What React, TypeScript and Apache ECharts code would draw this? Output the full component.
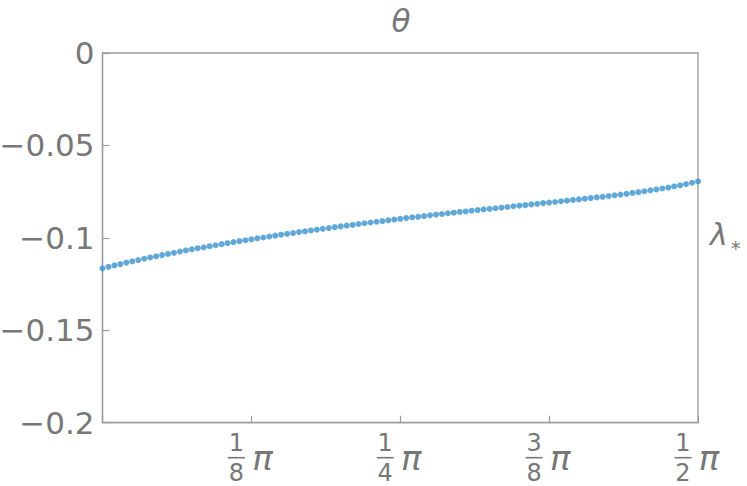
import { useEffect, useRef } from "react";
import * as echarts from "echarts";

const lambdaStar = [
  -0.1165, -0.1157, -0.1149, -0.1142, -0.1134, -0.1127, -0.1120, -0.1113, -0.1106, -0.1100,
  -0.1093, -0.1087, -0.1081, -0.1074, -0.1068, -0.1062, -0.1056, -0.1051, -0.1045, -0.1040,
  -0.1034, -0.1029, -0.1023, -0.1018, -0.1013, -0.1008, -0.1003, -0.0998, -0.0993, -0.0988,
  -0.0983, -0.0978, -0.0974, -0.0969, -0.0965, -0.0960, -0.0956, -0.0951, -0.0947, -0.0942,
  -0.0938, -0.0934, -0.0930, -0.0925, -0.0921, -0.0917, -0.0913, -0.0909, -0.0905, -0.0901,
  -0.0897, -0.0893, -0.0889, -0.0886, -0.0882, -0.0878, -0.0874, -0.0871, -0.0867, -0.0864,
  -0.0860, -0.0857, -0.0853, -0.0850, -0.0846, -0.0843, -0.0840, -0.0836, -0.0833, -0.0829,
  -0.0826, -0.0823, -0.0819, -0.0816, -0.0812, -0.0809, -0.0806, -0.0802, -0.0799, -0.0795,
  -0.0792, -0.0788, -0.0785, -0.0781, -0.0778, -0.0774, -0.0770, -0.0766, -0.0762, -0.0757,
  -0.0753, -0.0748, -0.0743, -0.0738, -0.0733, -0.0728, -0.0722, -0.0716, -0.0709, -0.0702,
  -0.0695,
];

// x ticks, in steps of π/200
const xTicks = [0, 25, 50, 75, 100];
const xTickNum = ["", "1", "1", "3", "1"];
const xTickDen = ["", "8", "4", "8", "2"];

const yTicks = [0, -0.05, -0.1, -0.15, -0.2];
const yTickLabels = ["0", "−0.05", "−0.1", "−0.15", "−0.2"];

const TEXT = "#777777";
const FRAME = "#9a9a9a";
const DOT = "#3792cd";
const FONT = "DejaVu Sans";

export default function App() {
  const ref = useRef<HTMLDivElement>(null);

  useEffect(() => {
    if (!ref.current) return;
    const chart = echarts.init(ref.current, undefined, { renderer: "svg" });
    chart.setOption({
      animation: false,
      backgroundColor: "#ffffff",
      grid: {
        left: 102.5,
        right: 49,
        top: 53,
        bottom: 63.3,
        show: true,
        borderColor: FRAME,
        borderWidth: 1.3,
        containLabel: false,
        outerBoundsMode: "none",
      },
      xAxis: {
        type: "value",
        position: "bottom",
        min: 0,
        max: 100,
        interval: 25,
        axisLine: { show: true, onZero: false, lineStyle: { color: FRAME, width: 1.3 } },
        axisTick: { show: true, inside: true, length: 7, lineStyle: { color: FRAME, width: 1.2 } },
        splitLine: { show: false },
        axisLabel: {
          margin: 9,
          color: TEXT,
          fontFamily: FONT,
          formatter: (v: number) => {
            const k = xTicks.indexOf(Math.round(v));
            if (k <= 0) return "";
            return (
              `{n|${xTickNum[k]}}{sp| }\n` +
              `{bar| }{gap| }{p|π}\n` +
              `{n|${xTickDen[k]}}{sp| }`
            );
          },
          rich: {
            n: { fontSize: 24, lineHeight: 22, width: 17, align: "center", color: TEXT, fontFamily: FONT },
            sp: { fontSize: 4, lineHeight: 4, width: 30 },
            bar: { fontSize: 4, height: 1.6, lineHeight: 8, width: 17, backgroundColor: TEXT },
            gap: { fontSize: 4, lineHeight: 8, width: 5 },
            p: {
              fontSize: 34,
              lineHeight: 8,
              width: 25,
              align: "left",
              fontStyle: "italic",
              color: TEXT,
              fontFamily: FONT,
            },
          },
        },
      },
      yAxis: {
        type: "value",
        position: "left",
        min: -0.2,
        max: 0,
        interval: 0.05,
        axisLine: { show: true, onZero: false, lineStyle: { color: FRAME, width: 1.3 } },
        axisTick: { show: true, inside: true, length: 7, lineStyle: { color: FRAME, width: 1.2 } },
        splitLine: { show: false },
        axisLabel: {
          margin: 8,
          color: TEXT,
          fontFamily: FONT,
          fontSize: 31,
          formatter: (v: number) => {
            const k = yTicks.findIndex((t) => Math.abs(t - v) < 1e-9);
            return k >= 0 ? yTickLabels[k] : "";
          },
        },
      },
      series: [
        {
          type: "scatter",
          symbol: "circle",
          symbolSize: 6,
          itemStyle: { color: DOT },
          data: lambdaStar.map((v, i) => [i, v]),
          clip: false,
        },
      ],
      graphic: [
        {
          type: "text",
          x: 401,
          y: 21,
          style: {
            text: "θ",
            fill: TEXT,
            font: `italic 31px "${FONT}"`,
            textAlign: "center",
            textVerticalAlign: "middle",
          },
        },
        {
          type: "text",
          x: 710,
          y: 234,
          style: {
            text: "λ",
            fill: TEXT,
            font: `italic 30px "${FONT}"`,
            textAlign: "left",
            textVerticalAlign: "middle",
          },
        },
        {
          type: "text",
          x: 731,
          y: 248,
          style: {
            text: "*",
            fill: TEXT,
            font: `19px "${FONT}"`,
            textAlign: "left",
            textVerticalAlign: "middle",
          },
        },
      ],
    });
    return () => chart.dispose();
  }, []);

  return (
    <div
      ref={ref}
      style={{ position: "fixed", left: 0, top: 0, width: 747, height: 486 }}
    />
  );
}
